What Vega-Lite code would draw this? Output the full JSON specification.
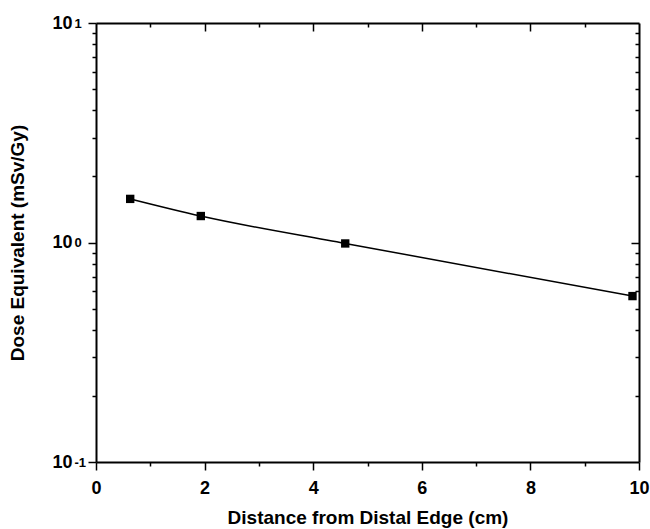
{
  "$schema": "https://vega.github.io/schema/vega-lite/v6.json",
  "width": 543,
  "height": 439,
  "autosize": "none",
  "padding": {"left": 96, "top": 23, "right": 11, "bottom": 67},
  "background": "white",
  "config": {
    "view": {"stroke": null},
    "font": "Liberation Sans",
    "axis": {
      "domainColor": "black",
      "domainWidth": 2,
      "tickColor": "black",
      "tickWidth": 1.5,
      "grid": false,
      "labelFont": "Liberation Sans",
      "labelFontWeight": "bold",
      "labelFontSize": 18,
      "labelColor": "black",
      "titleFont": "Liberation Sans",
      "titleFontWeight": "bold",
      "titleFontSize": 19,
      "titleColor": "black"
    }
  },
  "data": {
    "values": [
      {"distance": 0.63, "dose": 1.58},
      {"distance": 1.93, "dose": 1.32},
      {"distance": 4.59, "dose": 0.99},
      {"distance": 9.88, "dose": 0.57}
    ]
  },
  "layer": [
    {
      "mark": {"type": "line", "color": "black", "strokeWidth": 1.5, "interpolate": "monotone"},
      "encoding": {
        "x": {
          "field": "distance", "type": "quantitative",
          "scale": {"domain": [0, 10], "nice": false},
          "axis": {
            "orient": "bottom",
            "title": "Distance from Distal Edge (cm)",
            "titlePadding": 11,
            "values": [0, 1, 2, 3, 4, 5, 6, 7, 8, 9, 10],
            "labelExpr": "datum.value % 2 == 0 ? datum.label : ''",
            "labelFontSize": 18,
            "labelPadding": 9,
            "labelFlush": false,
            "tickSize": {"condition": {"test": "datum.value % 2 == 0", "value": 8}, "value": 4}
          }
        },
        "y": {
          "field": "dose", "type": "quantitative",
          "scale": {"type": "log", "domain": [0.1, 10], "nice": false},
          "axis": {
            "orient": "left",
            "title": null,
            "labels": false,
            "values": [0.1, 0.2, 0.3, 0.4, 0.5, 0.6, 0.7, 0.8, 0.9, 1, 2, 3, 4, 5, 6, 7, 8, 9, 10],
            "tickSize": {"condition": {"test": "datum.value == 0.1 || datum.value == 1 || datum.value == 10", "value": 8}, "value": 4}
          }
        }
      }
    },
    {
      "mark": {"type": "point", "shape": "square", "filled": true, "color": "black", "opacity": 1, "size": 70},
      "encoding": {
        "x": {
          "field": "distance", "type": "quantitative",
          "scale": {"domain": [0, 10], "nice": false},
          "axis": {
            "orient": "top",
            "title": null,
            "labels": false,
            "values": [1, 2, 3, 4, 5, 6, 7, 8, 9],
            "tickSize": {"condition": {"test": "datum.value % 2 == 0", "value": -8}, "value": -4}
          }
        },
        "y": {
          "field": "dose", "type": "quantitative",
          "scale": {"type": "log", "domain": [0.1, 10], "nice": false},
          "axis": {
            "orient": "right",
            "title": null,
            "labels": false,
            "values": [0.2, 0.3, 0.4, 0.5, 0.6, 0.7, 0.8, 0.9, 1, 2, 3, 4, 5, 6, 7, 8, 9],
            "tickSize": {"condition": {"test": "datum.value == 1", "value": -8}, "value": -4}
          }
        }
      }
    },
    {
      "mark": {"type": "point", "opacity": 0},
      "encoding": {
        "x": {"field": "distance", "type": "quantitative", "scale": {"domain": [0, 10], "nice": false}, "axis": null},
        "y": {
          "field": "dose", "type": "quantitative",
          "scale": {"type": "log", "domain": [0.1, 10], "nice": false},
          "axis": {
            "orient": "left",
            "title": "Dose Equivalent (mSv/Gy)",
            "titlePadding": 24,
            "domain": false,
            "ticks": false,
            "values": [0.1, 1, 10],
            "labelExpr": "'10'",
            "labelFontSize": 18,
            "labelPadding": 24,
            "labelBaseline": "middle",
            "labelFlush": false
          }
        }
      }
    },
    {
      "mark": {"type": "point", "opacity": 0},
      "encoding": {
        "x": {"field": "distance", "type": "quantitative", "scale": {"domain": [0, 10], "nice": false}, "axis": null},
        "y": {
          "field": "dose", "type": "quantitative",
          "scale": {"type": "log", "domain": [0.1, 10], "nice": false},
          "axis": {
            "orient": "left",
            "title": null,
            "domain": false,
            "ticks": false,
            "values": [0.1, 1, 10],
            "labelExpr": "datum.value == 0.1 ? '-1' : datum.value == 1 ? '0' : '1'",
            "labelFontSize": 13,
            "labelAlign": "left",
            "labelPadding": 22,
            "labelDy": -9,
            "labelBaseline": "middle",
            "labelFlush": false
          }
        }
      }
    }
  ],
  "resolve": {"axis": {"x": "independent", "y": "independent"}}
}
